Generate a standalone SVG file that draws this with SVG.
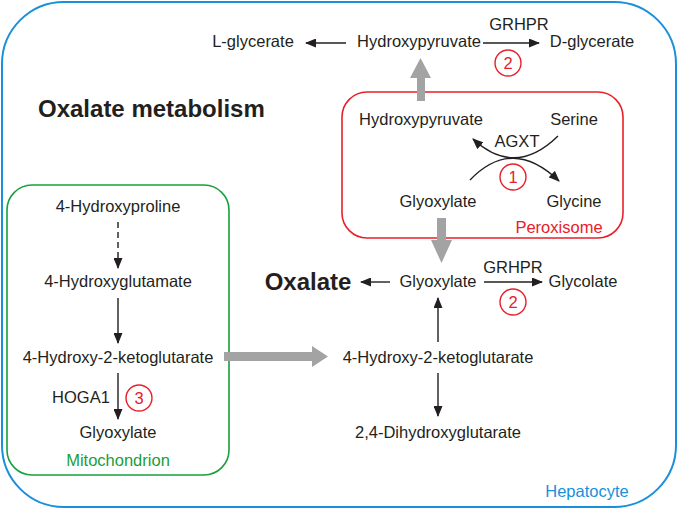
<svg xmlns="http://www.w3.org/2000/svg" width="678" height="509" viewBox="0 0 678 509">
<defs>
<style>
text{font-family:"Liberation Sans",Arial,sans-serif;font-size:16.5px;fill:#231f20;text-anchor:middle}
.b{font-weight:bold;font-size:24px}
.red{fill:#e8202a}
.grn{fill:#17a03c}
.blu{fill:#1a8fdc}
.ln{stroke:#231f20;stroke-width:1.4;fill:none}
.num{fill:none;stroke:#e8202a;stroke-width:1.4}
.gray{fill:#a3a3a3}
</style>
<marker id="ah" markerWidth="11" markerHeight="9" refX="10" refY="4.5" orient="auto" markerUnits="userSpaceOnUse">
<path d="M0,0 L11,4.5 L0,9 Z" fill="#231f20"/>
</marker>
</defs>
<g id="hepatocyte">
<rect x="2" y="2" width="674" height="505" rx="62" ry="62" fill="none" stroke="#1a8fdc" stroke-width="2"/>
<text class="blu" x="587" y="497">Hepatocyte</text>
</g>
<text class="b" x="38" y="117" style="text-anchor:start">Oxalate metabolism</text>
<g id="mitochondrion">
<rect x="7" y="185" width="222" height="290" rx="25" ry="25" fill="none" stroke="#17a03c" stroke-width="1.6"/>
<text class="grn" x="118" y="466">Mitochondrion</text>
</g>
<g id="peroxisome">
<rect x="342" y="92" width="281" height="146" rx="25" ry="25" fill="none" stroke="#e8202a" stroke-width="1.6"/>
<text class="red" x="559" y="233">Peroxisome</text>
</g>
<g id="connectors">
<line class="ln" x1="346" y1="43" x2="306" y2="43" marker-end="url(#ah)"/>
<line class="ln" x1="483" y1="43" x2="539" y2="43" marker-end="url(#ah)"/>
<path class="ln" d="M558,136 Q515,178 473,139" marker-end="url(#ah)"/>
<path class="ln" d="M470,180 Q512,136 559,181" marker-end="url(#ah)"/>
<line class="ln" x1="390" y1="282" x2="361" y2="282" marker-end="url(#ah)"/>
<line class="ln" x1="484" y1="282" x2="542" y2="282" marker-end="url(#ah)"/>
<line class="ln" x1="438" y1="342" x2="438" y2="298" marker-end="url(#ah)"/>
<line class="ln" x1="438" y1="373" x2="438" y2="416" marker-end="url(#ah)"/>
<line class="ln" x1="118" y1="222" x2="118" y2="268" stroke-dasharray="6,4" marker-end="url(#ah)"/>
<line class="ln" x1="118" y1="298" x2="118" y2="343" marker-end="url(#ah)"/>
<line class="ln" x1="118" y1="373" x2="118" y2="419" marker-end="url(#ah)"/>
<path class="gray" d="M417,101 L417,78 L410,78 L420.5,58 L431,78 L425,78 L425,101 Z"/>
<path class="gray" d="M437,218 L446,218 L446,240 L452,240 L441.5,263 L431,240 L437,240 Z"/>
<path class="gray" d="M224,352 L312,352 L312,346 L328,356.5 L312,367 L312,361 L224,361 Z"/>
</g>
<g id="n-lglycerate"><text x="253" y="47">L-glycerate</text></g>
<g id="n-hydroxypyruvate-top"><text x="419" y="47">Hydroxypyruvate</text></g>
<g id="n-dglycerate"><text x="592" y="47">D-glycerate</text></g>
<g id="label-grhpr-top"><text x="519" y="30">GRHPR</text>
<circle class="num" cx="508" cy="63" r="13"/><text class="red" x="508" y="69">2</text></g>
<g id="n-hydroxypyruvate-px"><text x="421" y="125">Hydroxypyruvate</text></g>
<g id="n-serine"><text x="574" y="125">Serine</text></g>
<g id="label-agxt"><text x="517" y="147">AGXT</text>
<circle class="num" cx="513" cy="177" r="13"/><text class="red" x="513" y="183">1</text></g>
<g id="n-glyoxylate-px"><text x="438" y="207">Glyoxylate</text></g>
<g id="n-glycine"><text x="574" y="207">Glycine</text></g>
<g id="n-oxalate"><text class="b" x="308" y="290">Oxalate</text></g>
<g id="n-glyoxylate"><text x="438" y="287">Glyoxylate</text></g>
<g id="label-grhpr-mid"><text x="513" y="273">GRHPR</text>
<circle class="num" cx="513" cy="302" r="13"/><text class="red" x="513" y="308">2</text></g>
<g id="n-glycolate"><text x="583" y="287">Glycolate</text></g>
<g id="n-hkg"><text x="438" y="363">4-Hydroxy-2-ketoglutarate</text></g>
<g id="n-dhg"><text x="438" y="438">2,4-Dihydroxyglutarate</text></g>
<g id="n-hyp"><text x="118" y="212">4-Hydroxyproline</text></g>
<g id="n-hglu"><text x="118" y="287">4-Hydroxyglutamate</text></g>
<g id="n-hkg-mito"><text x="118" y="363">4-Hydroxy-2-ketoglutarate</text></g>
<g id="label-hoga1"><text x="81" y="403">HOGA1</text>
<circle class="num" cx="139" cy="398" r="13"/><text class="red" x="139" y="404">3</text></g>
<g id="n-glyoxylate-mito"><text x="118" y="438">Glyoxylate</text></g>
</svg>
